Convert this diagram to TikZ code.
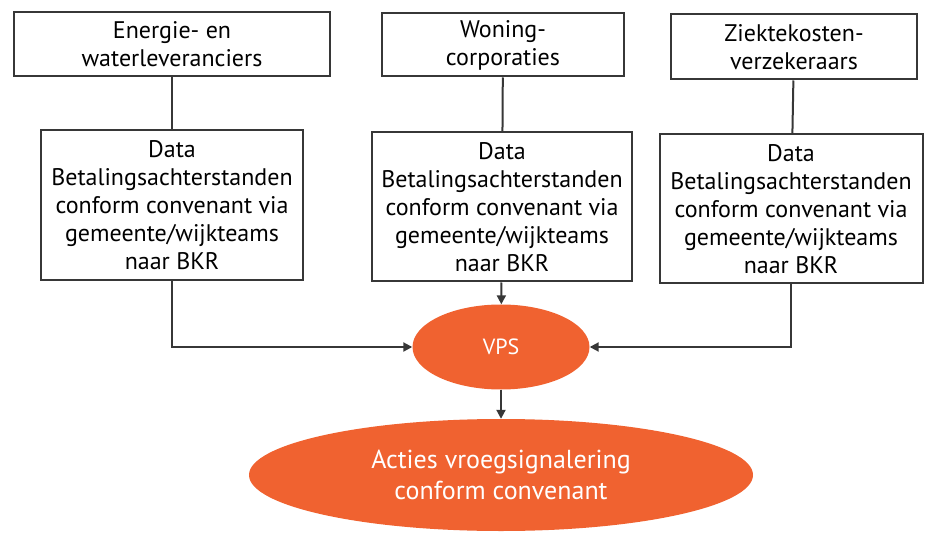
\documentclass[tikz,border=0pt]{standalone}
\usepackage{fontspec}
\setmainfont{PT Sans}
\usetikzlibrary{arrows.meta,shapes.geometric}
\definecolor{vpsoranje}{RGB}{240,98,48}
\definecolor{lijngrijs}{RGB}{55,55,55}
\tikzset{
	bron/.style={draw=lijngrijs, line width=2pt, align=center, inner sep=0pt, font=\fontsize{24}{28}\selectfont},
	databox/.style={draw=lijngrijs, line width=2pt, align=center, inner sep=0pt, font=\fontsize{24}{28}\selectfont},
	ovaal/.style={ellipse, fill=vpsoranje, text=white, align=center, inner sep=0pt},
	lijn/.style={draw=lijngrijs, line width=2pt},
	pijl/.style={lijn, -{Triangle[length=9pt,width=9pt]}}
}

\begin{document}
\begin{tikzpicture}[x=1pt,y=-1pt]
			\useasboundingbox (0,0) rectangle (928,534);
			% aanleverende partijen
			\node[bron, minimum width=316pt, minimum height=64pt] (energie) at (172,44) {Energie- en\\waterleveranciers};
			\node[bron, minimum width=242pt, minimum height=63pt] (woning) at (503,45) {Woning-\\corporaties};
			\node[bron, minimum width=246pt, minimum height=65pt] (ziekte) at (794,47) {Ziektekosten-\\verzekeraars};
			% data
			\node[databox, minimum width=262pt, minimum height=150pt] (dataA) at (172,205) {Data\\Betalingsachterstanden\\conform convenant via\\gemeente/wijkteams\\naar BKR};
			\node[databox, minimum width=260pt, minimum height=149pt] (dataB) at (502,207) {Data\\Betalingsachterstanden\\conform convenant via\\gemeente/wijkteams\\naar BKR};
			\node[databox, minimum width=263pt, minimum height=149pt] (dataC) at (791,209) {Data\\Betalingsachterstanden\\conform convenant via\\gemeente/wijkteams\\naar BKR};
			% VPS en acties
			\node[ovaal, minimum width=177pt, minimum height=85pt, font=\fontsize{22}{24}\selectfont] (vps) at (501,347) {VPS};
			\node[ovaal, minimum width=504pt, minimum height=112pt, font=\fontsize{26}{31}\selectfont] (acties) at (501,475) {Acties vroegsignalering\\conform convenant};
			% verbindingen
			\draw[lijn] (energie) -- (dataA);
			\draw[lijn] (woning) -- (dataB);
			\draw[lijn] (ziekte) -- (dataC);
			\draw[pijl] (dataA.south) |- (vps.west);
			\draw[pijl] (dataB) -- (vps);
			\draw[pijl] (dataC.south) |- (vps.east);
			\draw[pijl] (vps) -- (acties);
		\end{tikzpicture}
\end{document}
